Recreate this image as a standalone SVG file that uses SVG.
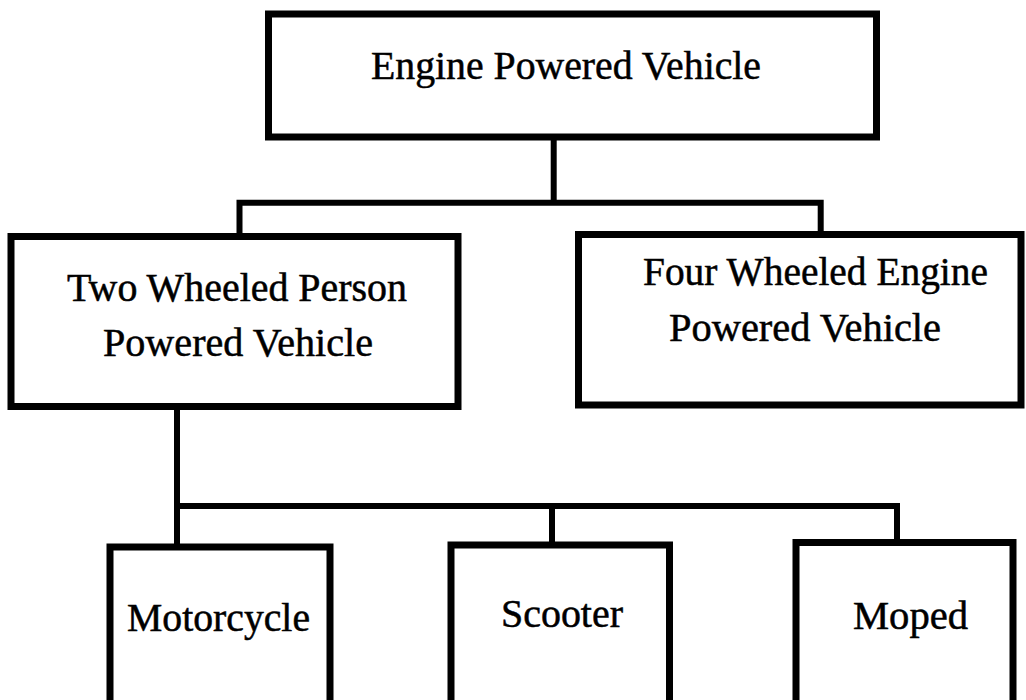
<svg xmlns="http://www.w3.org/2000/svg" width="1026" height="700" viewBox="0 0 1026 700">
<style>
.box{fill:#fff;stroke:#000;stroke-width:7}
.lbl{font-family:"Liberation Serif","Times New Roman",serif;font-size:39px;fill:#000;stroke:#000;stroke-width:0.5}
.con{fill:none;stroke:#000;stroke-width:6;stroke-linejoin:miter}
</style>
<rect width="1026" height="700" fill="#fff"/>
<g id="connectors">
<path class="con" d="M553.7,140 V202.7"/>
<path class="con" d="M239.5,236 V202.7 H820.7 V234"/>
<path class="con" d="M177,409 V547"/>
<path class="con" d="M177,506 H897 V542.5"/>
<path class="con" d="M552,506 V545"/>
</g>
<g id="engine-powered-vehicle">
<rect class="box" x="268.5" y="14" width="608" height="123"/>
<text class="lbl" x="371" y="79" textLength="390" lengthAdjust="spacingAndGlyphs">Engine Powered Vehicle</text>
</g>
<g id="two-wheeled">
<rect class="box" x="11" y="236.5" width="447" height="170"/>
<text class="lbl" x="67" y="301" textLength="340" lengthAdjust="spacingAndGlyphs">Two Wheeled Person</text>
<text class="lbl" x="103" y="356" textLength="270" lengthAdjust="spacingAndGlyphs">Powered Vehicle</text>
</g>
<g id="four-wheeled">
<rect class="box" x="578.5" y="234.5" width="442.5" height="170.5"/>
<text class="lbl" x="643" y="285" textLength="345" lengthAdjust="spacingAndGlyphs">Four Wheeled Engine</text>
<text class="lbl" x="669" y="341" textLength="272" lengthAdjust="spacingAndGlyphs">Powered Vehicle</text>
</g>
<g id="motorcycle">
<rect class="box" x="110" y="547" width="220" height="180"/>
<text class="lbl" x="127" y="631" textLength="183" lengthAdjust="spacingAndGlyphs">Motorcycle</text>
</g>
<g id="scooter">
<rect class="box" x="451" y="545" width="218.5" height="180"/>
<text class="lbl" x="501" y="627" textLength="122" lengthAdjust="spacingAndGlyphs">Scooter</text>
</g>
<g id="moped">
<rect class="box" x="796" y="542.5" width="217" height="180"/>
<text class="lbl" x="853" y="629" textLength="115" lengthAdjust="spacingAndGlyphs">Moped</text>
</g>
</svg>
